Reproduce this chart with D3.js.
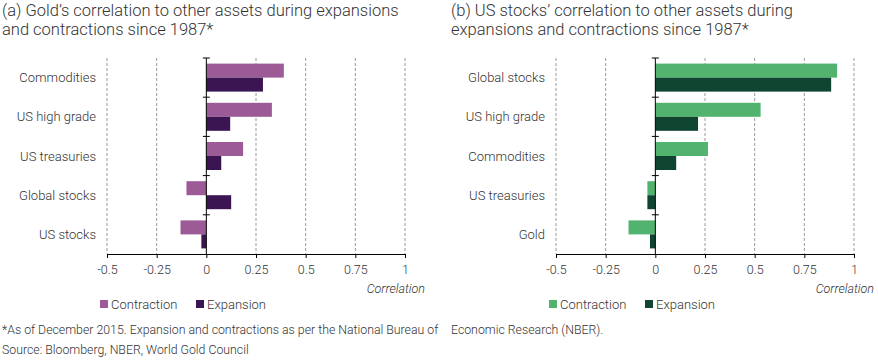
<!DOCTYPE html>
<html>
<head>
<meta charset="utf-8">
<script src="https://cdn.jsdelivr.net/npm/d3@7"></script>
<style>
  body { margin: 0; background: #fff; }
  svg { font-family: Roboto, "Liberation Sans", sans-serif; font-weight: 300; }
</style>
</head>
<body>
<svg id="chart" width="878" height="362"></svg>
<script>
// panel (a) - gold
let catsA = ["Commodities", "US high grade", "US treasuries", "Global stocks", "US stocks"];
let contraA = [0.39, 0.33, 0.185, -0.10, -0.13];
let expanA = [0.285, 0.12, 0.075, 0.125, -0.025];

// panel (b) - US stocks
let catsB = ["Global stocks", "US high grade", "Commodities", "US treasuries", "Gold"];
let contraB = [0.915, 0.53, 0.265, -0.04, -0.135];
let expanB = [0.885, 0.215, 0.105, -0.04, -0.027];

let ticks = [-0.5, -0.25, 0, 0.25, 0.5, 0.75, 1];
let tickLabels = ["-0.5", "-0.25", "0", "0.25", "0.5", "0.75", "1"];
let series = ["Contraction", "Expansion"];

let svg = d3.select("#chart");

function panel(ox, title, cats, contra, expan, colors, footLine) {
    let g = svg.append("g").attr("transform", `translate(${ox},0)`);

    // titulo en dos lineas
    g.append("text")
        .attr("x", 2).attr("y", 16)
        .style("font-size", "16.5px").style("fill", "#333")
        .selectAll("tspan")
        .data(title)
        .enter().append("tspan")
        .attr("x", 2)
        .attr("dy", (d, i) => i == 0 ? 0 : 18.5)
        .text(d => d);

    let x = d3.scaleLinear().domain([-0.5, 1]).range([107, 405]);
    let y = d3.scaleBand().domain(cats).range([58, 254]);
    let y2 = d3.scaleBand().domain(series).range([0, y.bandwidth()]).paddingOuter(0.4).paddingInner(0);

    // lineas punteadas
    g.selectAll(".grid")
        .data(ticks.filter(t => t != 0))
        .enter().append("line")
        .attr("x1", d => x(d)).attr("x2", d => x(d))
        .attr("y1", 58).attr("y2", 254)
        .style("stroke", "#999")
        .style("stroke-dasharray", "3,2")
        .style("stroke-width", 1);

    let rows = cats.map((c, i) => ({ cat: c, vals: [contra[i], expan[i]] }));

    let grp = g.selectAll(".row")
        .data(rows)
        .enter().append("g")
        .attr("transform", d => `translate(0,${y(d.cat)})`);

    grp.selectAll("rect")
        .data(d => d.vals.map((v, j) => ({ v: v, s: series[j] })))
        .enter().append("rect")
        .attr("x", d => x(Math.min(0, d.v)))
        .attr("width", d => Math.abs(x(d.v) - x(0)))
        .attr("y", d => y2(d.s))
        .attr("height", y2.bandwidth())
        .style("fill", (d, j) => colors[j]);

    // etiquetas de categorias
    g.selectAll(".cat")
        .data(cats)
        .enter().append("text")
        .attr("x", 96)
        .attr("y", d => y(d) + y.bandwidth() / 2 + 4.5)
        .attr("text-anchor", "end")
        .style("font-size", "13px").style("fill", "#333")
        .text(d => d);

    // eje vertical en cero con marcas
    g.append("line")
        .attr("x1", x(0)).attr("x2", x(0))
        .attr("y1", 58).attr("y2", 254)
        .style("stroke", "#000");
    g.selectAll(".ytick")
        .data(cats)
        .enter().append("line")
        .attr("x1", x(0) - 3.5).attr("x2", x(0) + 3.5)
        .attr("y1", d => y(d)).attr("y2", d => y(d))
        .style("stroke", "#000");

    // eje inferior
    let axis = d3.axisBottom(x)
        .tickValues(ticks)
        .tickFormat((d, i) => tickLabels[i])
        .tickSize(4)
        .tickSizeOuter(0)
        .tickPadding(7);
    let ax = g.append("g").attr("transform", "translate(0,254)").call(axis);
    ax.select(".domain").style("stroke", "#000");
    ax.selectAll(".tick line").style("stroke", "#000");
    ax.selectAll("text")
        .style("font-family", "Roboto, 'Liberation Sans', sans-serif")
        .style("font-weight", 300)
        .style("font-size", "12.5px").style("fill", "#333");

    g.append("text")
        .attr("x", 425).attr("y", 293)
        .attr("text-anchor", "end")
        .style("font-size", "12.5px").style("font-style", "italic").style("fill", "#333")
        .text("Correlation");

    // leyenda
    let leg = g.selectAll(".leg")
        .data(series)
        .enter().append("g")
        .attr("transform", (d, i) => `translate(${100 + i * 96},304)`);
    leg.append("rect")
        .attr("x", 0).attr("y", -4).attr("width", 8).attr("height", 8)
        .style("fill", (d, i) => colors[i]);
    leg.append("text")
        .attr("x", 11).attr("y", 4.5)
        .style("font-size", "13px").style("fill", "#333")
        .text(d => d);

    g.append("text")
        .attr("x", 2).attr("y", 334)
        .style("font-size", "12.3px").style("fill", "#333")
        .text(footLine);
}

panel(0, ["(a) Gold\u2019s correlation to other assets during expansions", "and contractions since 1987*"],
    catsA, contraA, expanA, ["#9c5b96", "#3b1552"],
    "*As of December 2015. Expansion and contractions as per the National Bureau  of");
panel(449, ["(b) US stocks\u2019 correlation to other assets during", "expansions and contractions since 1987*"],
    catsB, contraB, expanB, ["#52b36e", "#0f4430"],
    "Economic Research (NBER).");

svg.append("text")
    .attr("x", 2).attr("y", 354)
    .style("font-size", "12.3px").style("fill", "#333")
    .text("Source: Bloomberg, NBER, World Gold Council");
</script>
</body>
</html>
